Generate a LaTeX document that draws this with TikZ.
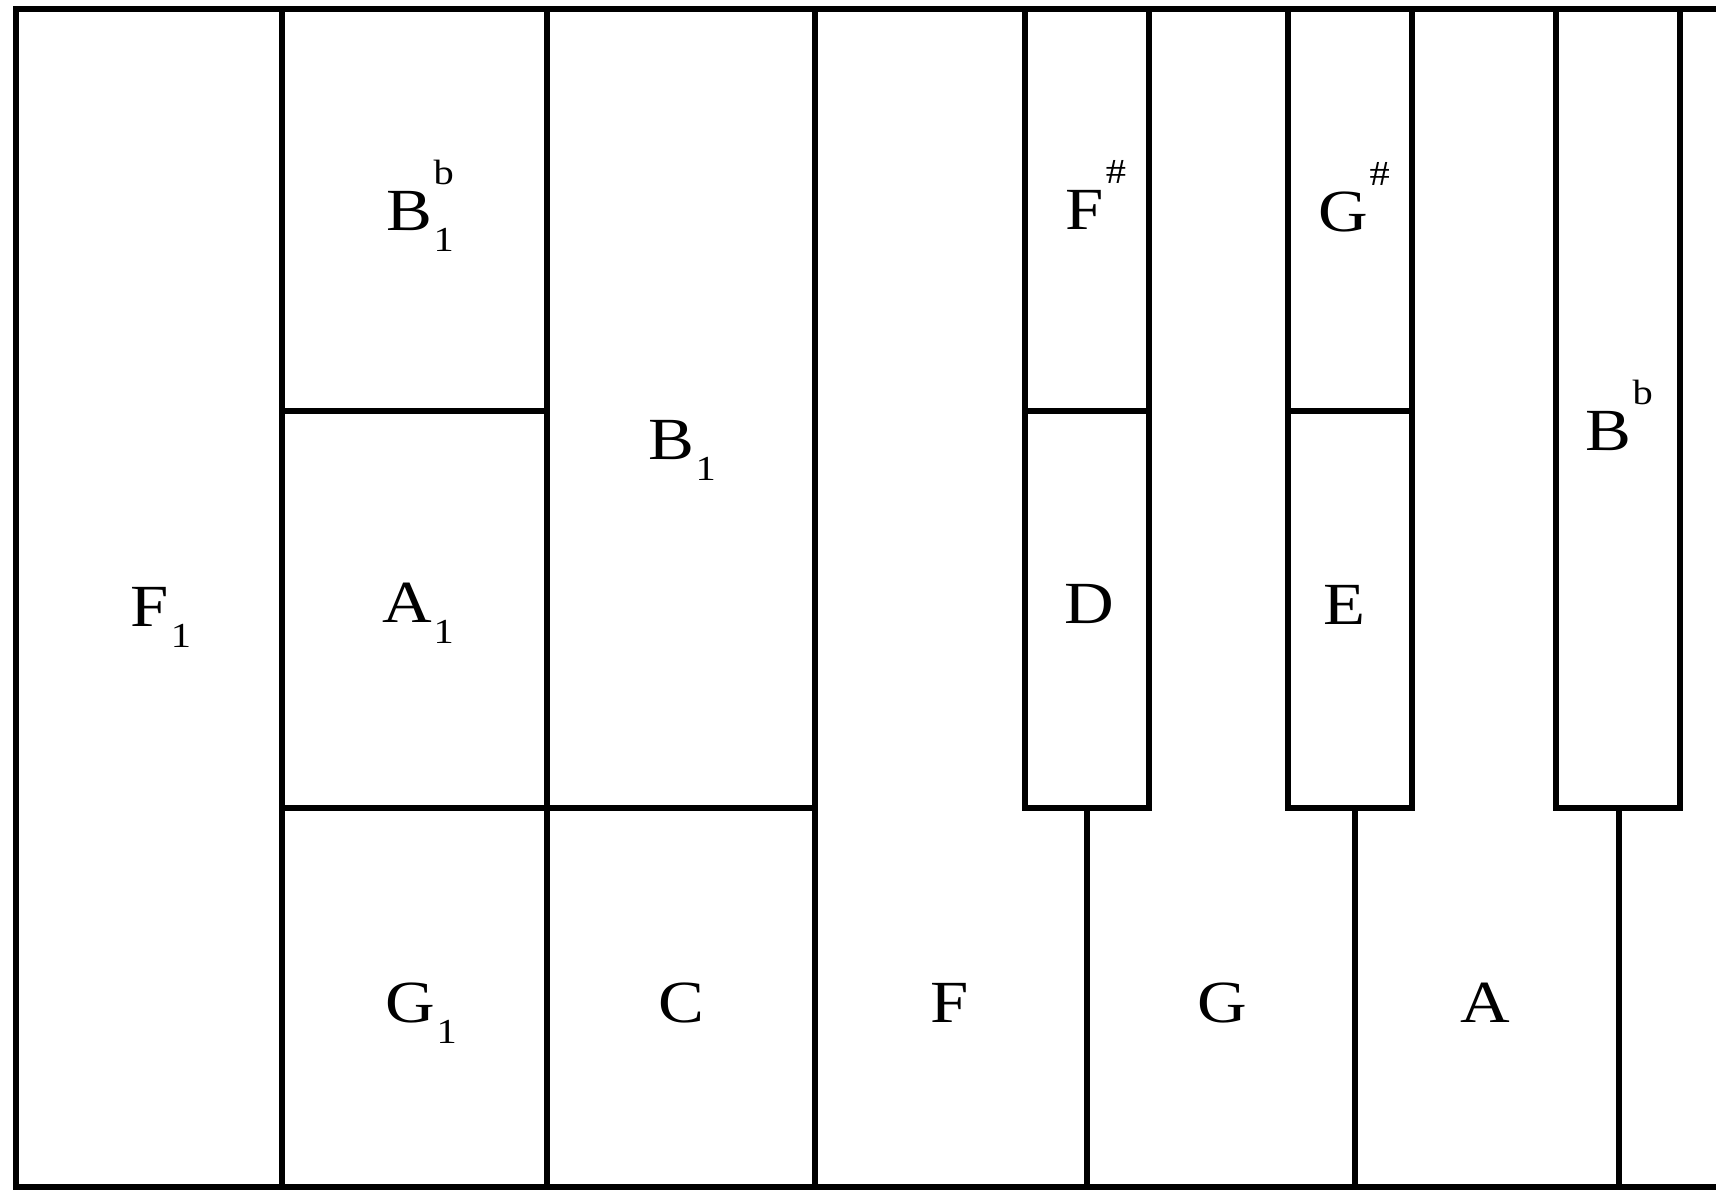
\documentclass[tikz,border=0pt]{standalone}
\usepackage{fontspec}
\setmainfont{Liberation Serif}[FakeStretch=1.15]
\usepackage{tikz}
\colorlet{keyline}{black}
\newcommand{\nt}[3]{#1\rlap{\smash{\kern0.5pt\raisebox{-6pt}{\fontsize{10}{10}\selectfont #2}}}\rlap{\smash{\kern0.5pt\raisebox{13pt}{\fontsize{10}{10}\selectfont #3}}}}

\begin{document}
\begin{tikzpicture}[x=0.01cm, y=-0.01cm, line width=1.6pt,
    lab/.style={inner sep=0pt, font=\fontsize{17}{17}\selectfont}]
      \useasboundingbox (0,0) rectangle (1716,1192);
      % Outer frame (open on the right)
      \draw[keyline] (1716,9) -- (16,9) -- (16,1187) -- (1716,1187);
      % Full-height key lines
      \draw[keyline] (282,9) -- (282,1187);
      \draw[keyline] (547,9) -- (547,1187);
      \draw[keyline] (815,9) -- (815,1187);
      % Splits on the left keys
      \draw[keyline] (282,411) -- (547,411);
      \draw[keyline] (282,808) -- (815,808);
      % Black keys with their stems
      \foreach \l/\r/\s in {1025/1149/1087, 1288/1412/1355, 1556/1680/1619} {
        \draw[keyline] (\l,9) rectangle (\r,808);
        \draw[keyline] (\s,808) -- (\s,1187);
      }
      \draw[keyline] (1025,411) -- (1149,411);
      \draw[keyline] (1288,411) -- (1412,411);
      % Note names
      \node[lab] (f1) at (150,607) {\nt{F}{1}{}};
      \node[lab] (b1flat) at (409,211) {\nt{B}{1}{b}};
      \node[lab] (a1) at (407,603) {\nt{A}{1}{}};
      \node[lab] (g1) at (410,1003) {\nt{G}{1}{}};
      \node[lab] (b1) at (671,440) {\nt{B}{1}{}};
      \node[lab] (c) at (681,1003) {C};
      \node[lab] (f) at (950,1003) {F};
      \node[lab] (fsharp) at (1085,210) {\nt{F}{}{\#}};
      \node[lab] (d) at (1089,604) {D};
      \node[lab] (gsharp) at (1343,212) {\nt{G}{}{\#}};
      \node[lab] (e) at (1344,605) {E};
      \node[lab] (bflat) at (1608,431) {\nt{B}{}{b}};
      \node[lab] (g) at (1222,1003) {G};
      \node[lab] (a) at (1485,1003) {A};
\end{tikzpicture}
\end{document}
